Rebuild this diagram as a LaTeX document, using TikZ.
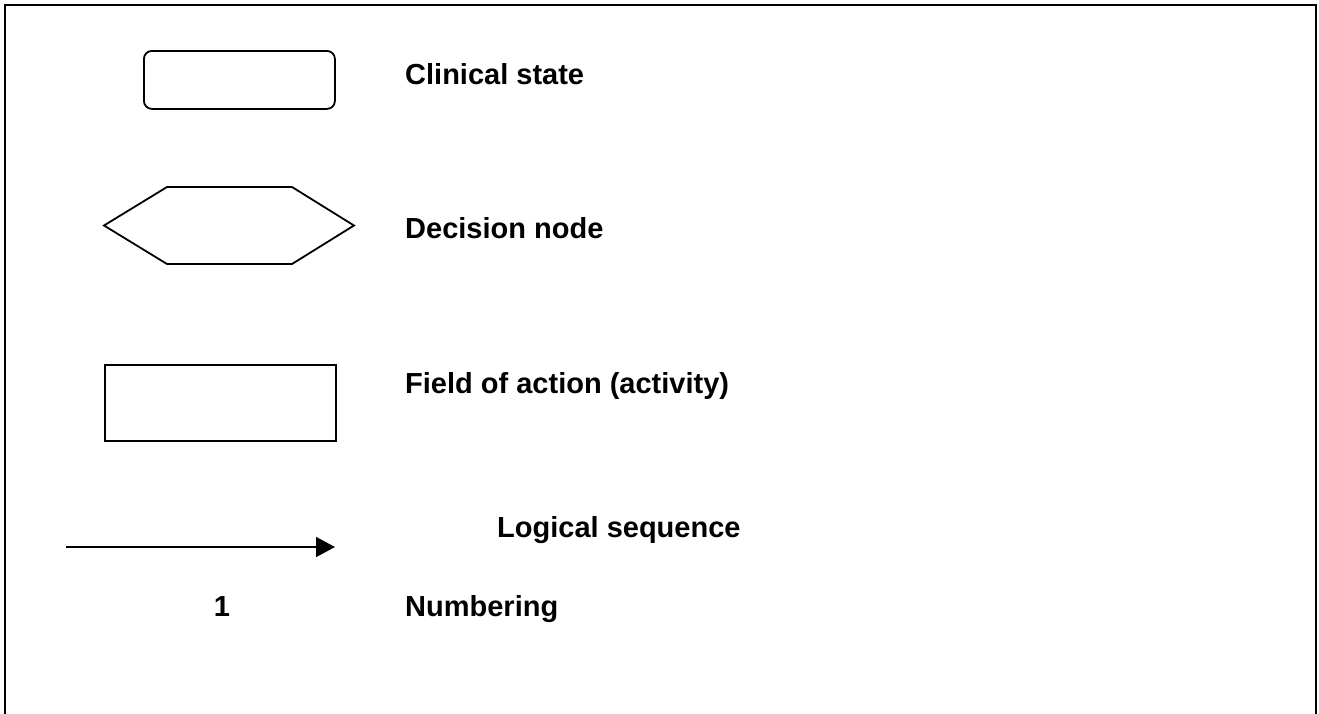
\documentclass[tikz,border=0pt]{standalone}
\usepackage{fontspec}
\setmainfont{Liberation Sans}
\usetikzlibrary{arrows.meta}
\begin{document}
\begin{tikzpicture}[x=1pt,y=-1pt,
  shapeline/.style={draw=black,line width=1.8pt},
  label/.style={anchor=base west,inner sep=0pt,font=\fontsize{29}{34}\selectfont\bfseries},
  seq/.style={line width=1.6pt,-{Triangle[length=19pt,width=20pt]}}]
\useasboundingbox (0,0) rectangle (1319,713);
\draw[line width=2.6pt] (5,714) -- (5,5) -- (1316,5) -- (1316,714);
% clinical state
\node[shapeline,rounded corners=8pt,minimum width=191pt,minimum height=58pt,inner sep=0pt,anchor=north west] (cs) at (143,50) {};
\node[label] (cst) at (405,84) {Clinical state};
% decision node
\draw[shapeline] (104,225.5) -- (167,187) -- (292,187) -- (354,225.5) -- (292,264) -- (167,264) -- cycle;
\node[label] (dnt) at (405,238) {Decision node};
% field of action
\node[shapeline,minimum width=231pt,minimum height=76pt,inner sep=0pt,anchor=north west] (fa) at (104,364) {};
\node[label] (fat) at (405,393) {Field of action (activity)};
% logical sequence
\coordinate (ls1) at (66,547);
\coordinate (ls2) at (335,547);
\draw[seq] (ls1) -- (ls2);
\node[label] (lst) at (497,537) {Logical sequence};
% numbering
\node[label,anchor=base] (one) at (222,616) {1};
\node[label] (numt) at (405,616) {Numbering};
\end{tikzpicture}
\end{document}
